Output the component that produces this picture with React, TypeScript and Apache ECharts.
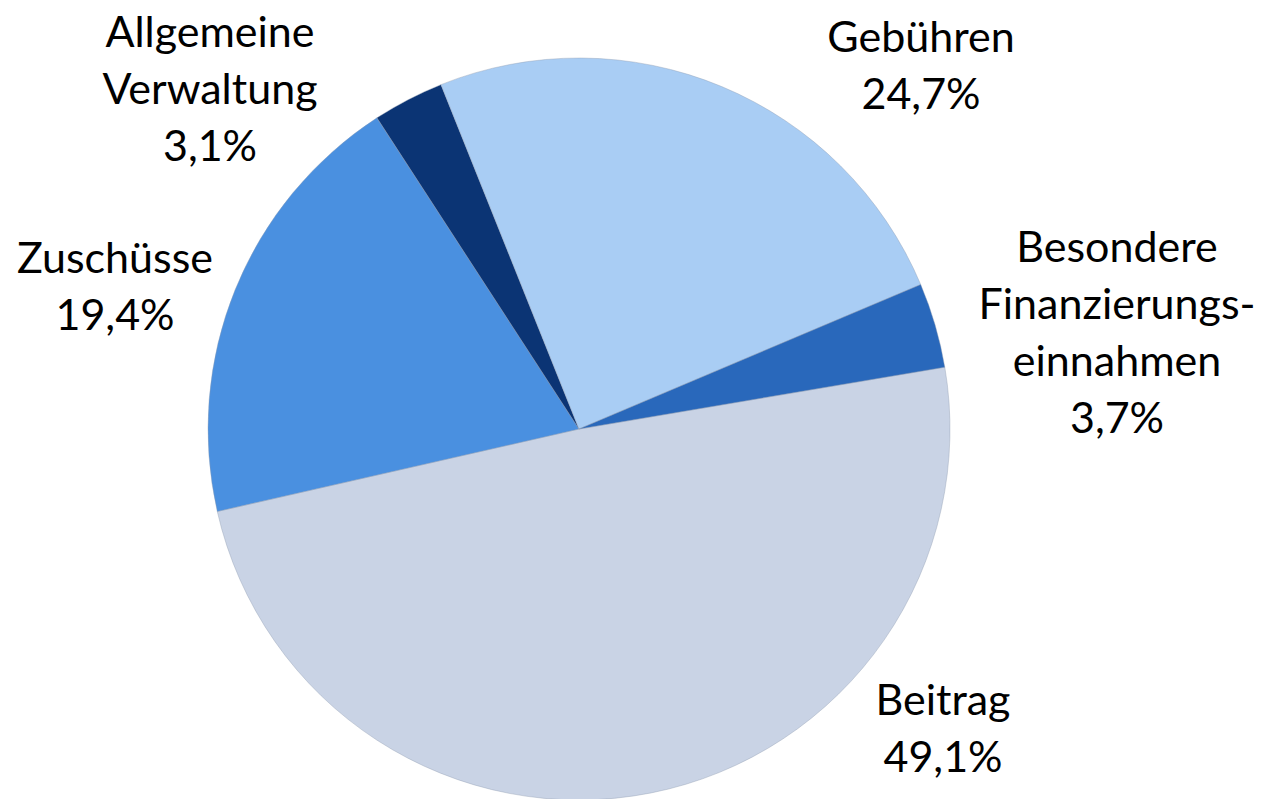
import React, { useEffect, useRef } from "react";
import * as echarts from "echarts";

const categories = [
  "Beitrag",
  "Zuschüsse",
  "Allgemeine\nVerwaltung",
  "Gebühren",
  "Besondere\nFinanzierungs-\neinnahmen",
];
const shares = [49.1, 19.4, 3.1, 24.7, 3.7];
const colors = ["#C9D3E5", "#4A90E0", "#0B3474", "#A9CDF4", "#2968BB"];
// label block centres (px)
const labelX = [943, 115, 210, 921, 1117];
const labelY = [727, 285, 87, 64, 331];

export default function App() {
  const ref = useRef<HTMLDivElement>(null);
  useEffect(() => {
    if (!ref.current) return;
    const chart = echarts.init(ref.current, null, { renderer: "svg" });
    chart.setOption({
      animation: false,
      backgroundColor: "#ffffff",
      series: [
        {
          type: "pie",
          center: [579, 429],
          radius: 371,
          startAngle: 9.6,
          clockwise: true,
          avoidLabelOverlap: false,
          itemStyle: { borderWidth: 0.4, borderColor: "#8f9db0" },
          label: {
            show: true,
            color: "#000000",
            fontFamily: "Lato",
            fontSize: 43,
            lineHeight: 57,
            align: "center",
            formatter: (p: any) =>
              p.name + "\n" + p.value.toFixed(1).replace(".", ",") + "%",
          },
          labelLine: { show: false },
          labelLayout: (p: any) => ({
            x: labelX[p.dataIndex],
            y: labelY[p.dataIndex],
            align: "center",
            verticalAlign: "middle",
          }),
          data: categories.map((c, i) => ({
            name: c,
            value: shares[i],
            itemStyle: { color: colors[i] },
          })),
        },
      ],
    });
    return () => chart.dispose();
  }, []);
  return (
    <div
      ref={ref}
      style={{ position: "absolute", left: 0, top: 0, width: 1265, height: 799 }}
    />
  );
}
